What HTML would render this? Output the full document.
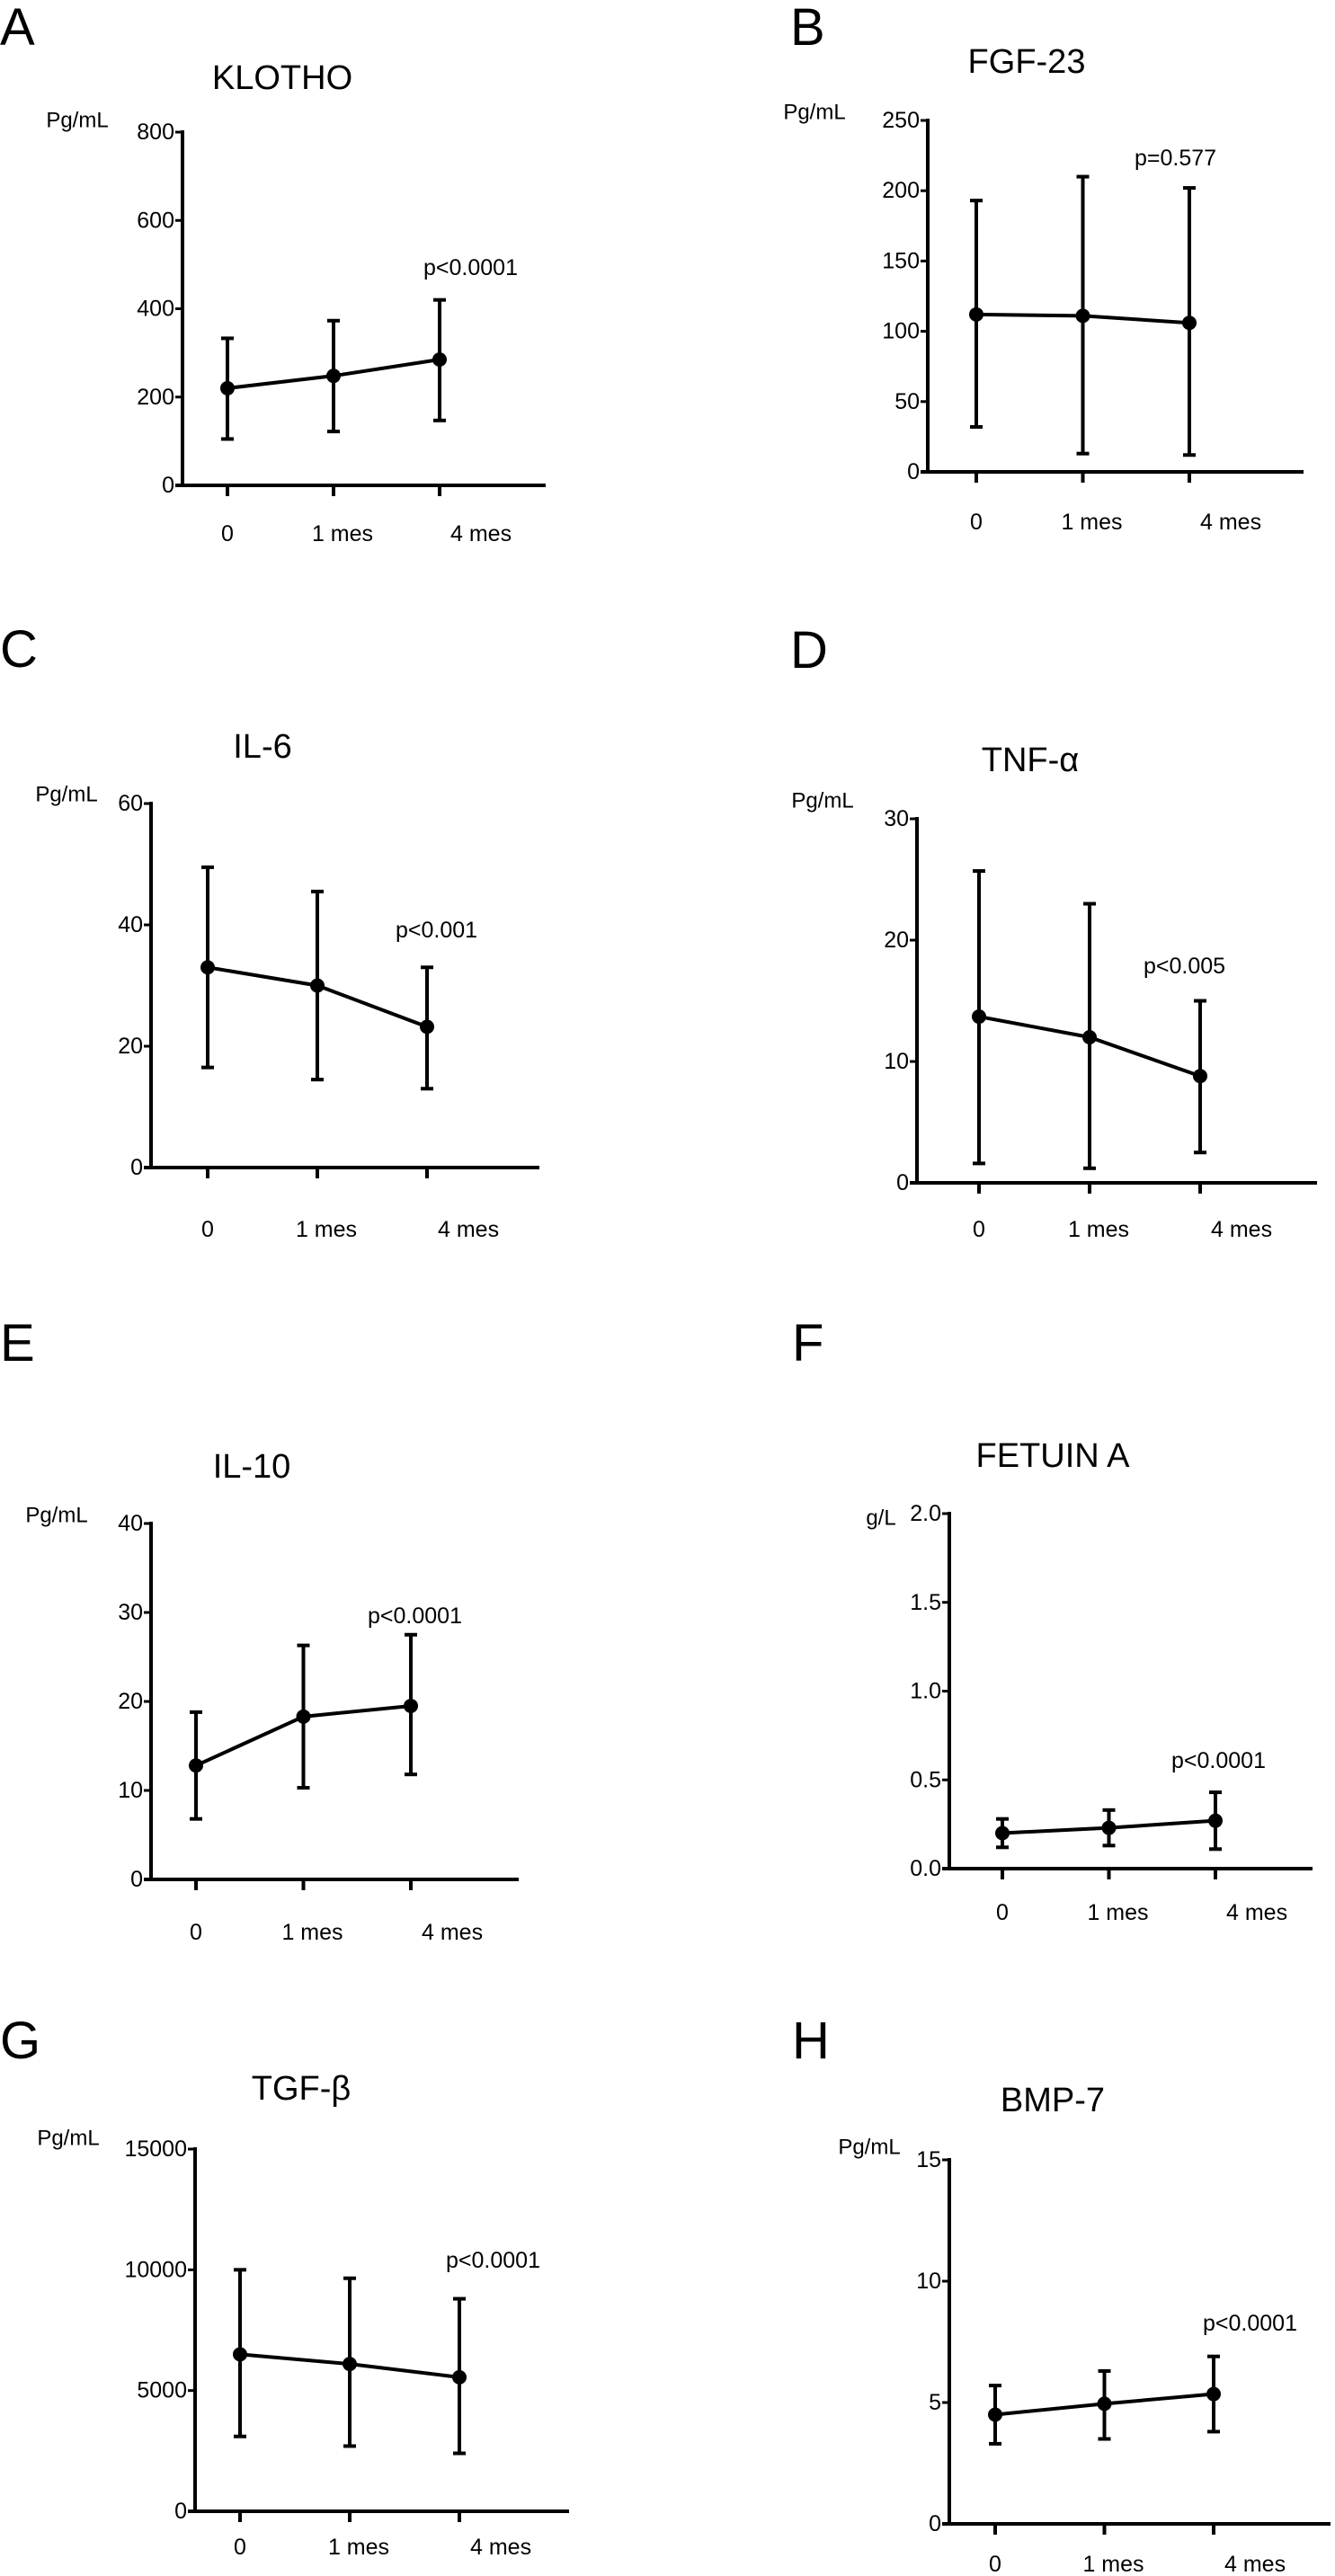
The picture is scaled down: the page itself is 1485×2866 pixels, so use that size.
<!DOCTYPE html>
<html><head><meta charset="utf-8"><style>
html,body{margin:0;padding:0;background:#fff;}
svg{display:block;font-family:"Liberation Sans",Arial,sans-serif;}
</style></head><body>
<svg id="fig" width="1485" height="2866" viewBox="0 0 1485 2866" xmlns="http://www.w3.org/2000/svg"></svg>
<script>
const categories = ["0", "1 mes", "4 mes"];
const klothoMean = [220, 248, 285], klothoLow = [105, 122, 147], klothoHigh = [333, 373, 420];
const klothoTicks = [0, 200, 400, 600, 800];
const fgfMean = [112, 111, 106], fgfLow = [32, 13, 12], fgfHigh = [193, 210, 202];
const fgfTicks = [0, 50, 100, 150, 200, 250];
const il6Mean = [33, 30, 23.2], il6Low = [16.5, 14.5, 13], il6High = [49.5, 45.5, 33];
const il6Ticks = [0, 20, 40, 60];
const tnfMean = [13.7, 12, 8.8], tnfLow = [1.6, 1.2, 2.5], tnfHigh = [25.7, 23, 15];
const tnfTicks = [0, 10, 20, 30];
const il10Mean = [12.8, 18.3, 19.5], il10Low = [6.8, 10.3, 11.8], il10High = [18.8, 26.3, 27.5];
const il10Ticks = [0, 10, 20, 30, 40];
const fetMean = [0.20, 0.23, 0.27], fetLow = [0.12, 0.13, 0.11], fetHigh = [0.28, 0.33, 0.43];
const fetTicks = [0, 0.5, 1.0, 1.5, 2.0];
const tgfMean = [6500, 6100, 5550], tgfLow = [3100, 2700, 2400], tgfHigh = [10000, 9650, 8800];
const tgfTicks = [0, 5000, 10000, 15000];
const bmpMean = [4.5, 4.95, 5.35], bmpLow = [3.3, 3.5, 3.8], bmpHigh = [5.7, 6.3, 6.9];
const bmpTicks = [0, 5, 10, 15];
const pTexts = ["p<0.0001", "p=0.577", "p<0.001", "p<0.005", "p<0.0001", "p<0.0001", "p<0.0001", "p<0.0001"];

const panels = [
 {id:"klotho",letter:"A",lx:0,lb:50,title:"KLOTHO",tx:314,ty:87,unit:"Pg/mL",ux:86,uy:134,ax:203,yt:147,yb:540,x0:253,dx:118,xe:607,ly:594,px:471,py:298,mean:klothoMean,low:klothoLow,high:klothoHigh,ticks:klothoTicks,dec:0},
 {id:"fgf23",letter:"B",lx:879,lb:50,title:"FGF-23",tx:1142,ty:69,unit:"Pg/mL",ux:906,uy:125,ax:1032,yt:134,yb:525,x0:1086,dx:118.5,xe:1450,ly:581,px:1262,py:176,mean:fgfMean,low:fgfLow,high:fgfHigh,ticks:fgfTicks,dec:0},
 {id:"il6",letter:"C",lx:0,lb:742,title:"IL-6",tx:292,ty:831,unit:"Pg/mL",ux:74,uy:884,ax:168,yt:894,yb:1299,x0:231,dx:122,xe:600,ly:1368,px:440,py:1035,mean:il6Mean,low:il6Low,high:il6High,ticks:il6Ticks,dec:0},
 {id:"tnf",letter:"D",lx:879,lb:743,title:"TNF-\u03b1",tx:1146,ty:846,unit:"Pg/mL",ux:915,uy:891,ax:1020,yt:911,yb:1316,x0:1089,dx:123,xe:1465,ly:1368,px:1272,py:1075,mean:tnfMean,low:tnfLow,high:tnfHigh,ticks:tnfTicks,dec:0},
 {id:"il10",letter:"E",lx:0,lb:1514,title:"IL-10",tx:280,ty:1632,unit:"Pg/mL",ux:63,uy:1686,ax:168,yt:1695,yb:2091,x0:218,dx:119.5,xe:577,ly:2150,px:409,py:1798,mean:il10Mean,low:il10Low,high:il10High,ticks:il10Ticks,dec:0},
 {id:"fetuin",letter:"F",lx:881,lb:1514,title:"FETUIN A",tx:1171,ty:1620,unit:"g/L",ux:980,uy:1689,ax:1056,yt:1684,yb:2079,x0:1115,dx:118.5,xe:1460,ly:2128,px:1303,py:1959,mean:fetMean,low:fetLow,high:fetHigh,ticks:fetTicks,dec:1},
 {id:"tgf",letter:"G",lx:0,lb:2290,title:"TGF-\u03b2",tx:335,ty:2324,unit:"Pg/mL",ux:76,uy:2379,ax:217,yt:2391,yb:2794,x0:267,dx:122,xe:633,ly:2834,px:496,py:2515,mean:tgfMean,low:tgfLow,high:tgfHigh,ticks:tgfTicks,dec:0},
 {id:"bmp7",letter:"H",lx:881,lb:2290,title:"BMP-7",tx:1171,ty:2337,unit:"Pg/mL",ux:967,uy:2389,ax:1056,yt:2403,yb:2808,x0:1107,dx:121.5,xe:1480,ly:2853,px:1338,py:2585,mean:bmpMean,low:bmpLow,high:bmpHigh,ticks:bmpTicks,dec:0}
];

const NS = "http://www.w3.org/2000/svg";
const svg = document.getElementById("fig");
function mk(tag, attrs, parent, text){
  const e = document.createElementNS(NS, tag);
  for (const k in attrs) e.setAttribute(k, attrs[k]);
  if (text !== undefined) e.textContent = text;
  parent.appendChild(e);
  return e;
}
panels.forEach((p, pi) => {
  const g = mk("g", {}, svg);
  
  
  const yMax = p.ticks[p.ticks.length - 1];
  const yS = v => p.yb - (v / yMax) * (p.yb - p.yt);
  const xS = i => p.x0 + i * p.dx;

  const L = mk("text", {x:p.lx, y:p.lb, "font-size":58}, g, p.letter);
  
  
  const T = mk("text", {x:p.tx, y:p.ty, "font-size":38, "text-anchor":"middle", "dominant-baseline":"central"}, g, p.title);
  
  
  const U = mk("text", {x:p.ux, y:p.uy, "font-size":24, "text-anchor":"middle", "dominant-baseline":"central"}, g, p.unit);
  
  

  const ya = mk("line", {x1:p.ax, y1:p.yt - 2, x2:p.ax, y2:p.yb + 2, stroke:"#000", "stroke-width":4}, g);
  
  
  const xa = mk("line", {x1:p.ax - 8, y1:p.yb, x2:p.xe, y2:p.yb, stroke:"#000", "stroke-width":4}, g);
  
  

  p.ticks.forEach(t => {
    const y = yS(t);
    const tk = mk("line", {x1:p.ax - 8, y1:y, x2:p.ax, y2:y, stroke:"#000", "stroke-width":3}, g);
    
    
    const tl = mk("text", {x:p.ax - 9, y:y, "font-size":25, "text-anchor":"end", "dominant-baseline":"central"}, g, t.toFixed(p.dec));
    
    
  });

  categories.forEach((c, i) => {
    const x = xS(i);
    const tk = mk("line", {x1:x, y1:p.yb, x2:x, y2:p.yb + 12, stroke:"#000", "stroke-width":4}, g);
    
    
    let lx = x, anchor = "middle";
    if (i === 1) lx = x + 10;
    if (i === 2) { lx = x + 12; anchor = "start"; }
    const tl = mk("text", {x:lx, y:p.ly, "font-size":25, "text-anchor":anchor, "dominant-baseline":"central"}, g, c);
    
    
  });

  categories.forEach((c, i) => {
    const x = xS(i), yh = yS(p.high[i]), yl = yS(p.low[i]);
    const eb = mk("g", {stroke:"#000", "stroke-width":4}, g);
    
    
    mk("line", {x1:x, y1:yh, x2:x, y2:yl}, eb);
    mk("line", {x1:x - 7, y1:yh, x2:x + 7, y2:yh}, eb);
    mk("line", {x1:x - 7, y1:yl, x2:x + 7, y2:yl}, eb);
  });
  const pts = p.mean.map((v, i) => xS(i) + "," + yS(v)).join(" ");
  const ln = mk("polyline", {points:pts, fill:"none", stroke:"#000", "stroke-width":4}, g);
  
  
  p.mean.forEach((v, i) => {
    const pt = mk("circle", {cx:xS(i), cy:yS(v), r:8, fill:"#000"}, g);
    
    
  });
  const pv = mk("text", {x:p.px, y:p.py, "font-size":25, "dominant-baseline":"central"}, g, pTexts[pi]);
  
  
});
</script>
</body></html>
